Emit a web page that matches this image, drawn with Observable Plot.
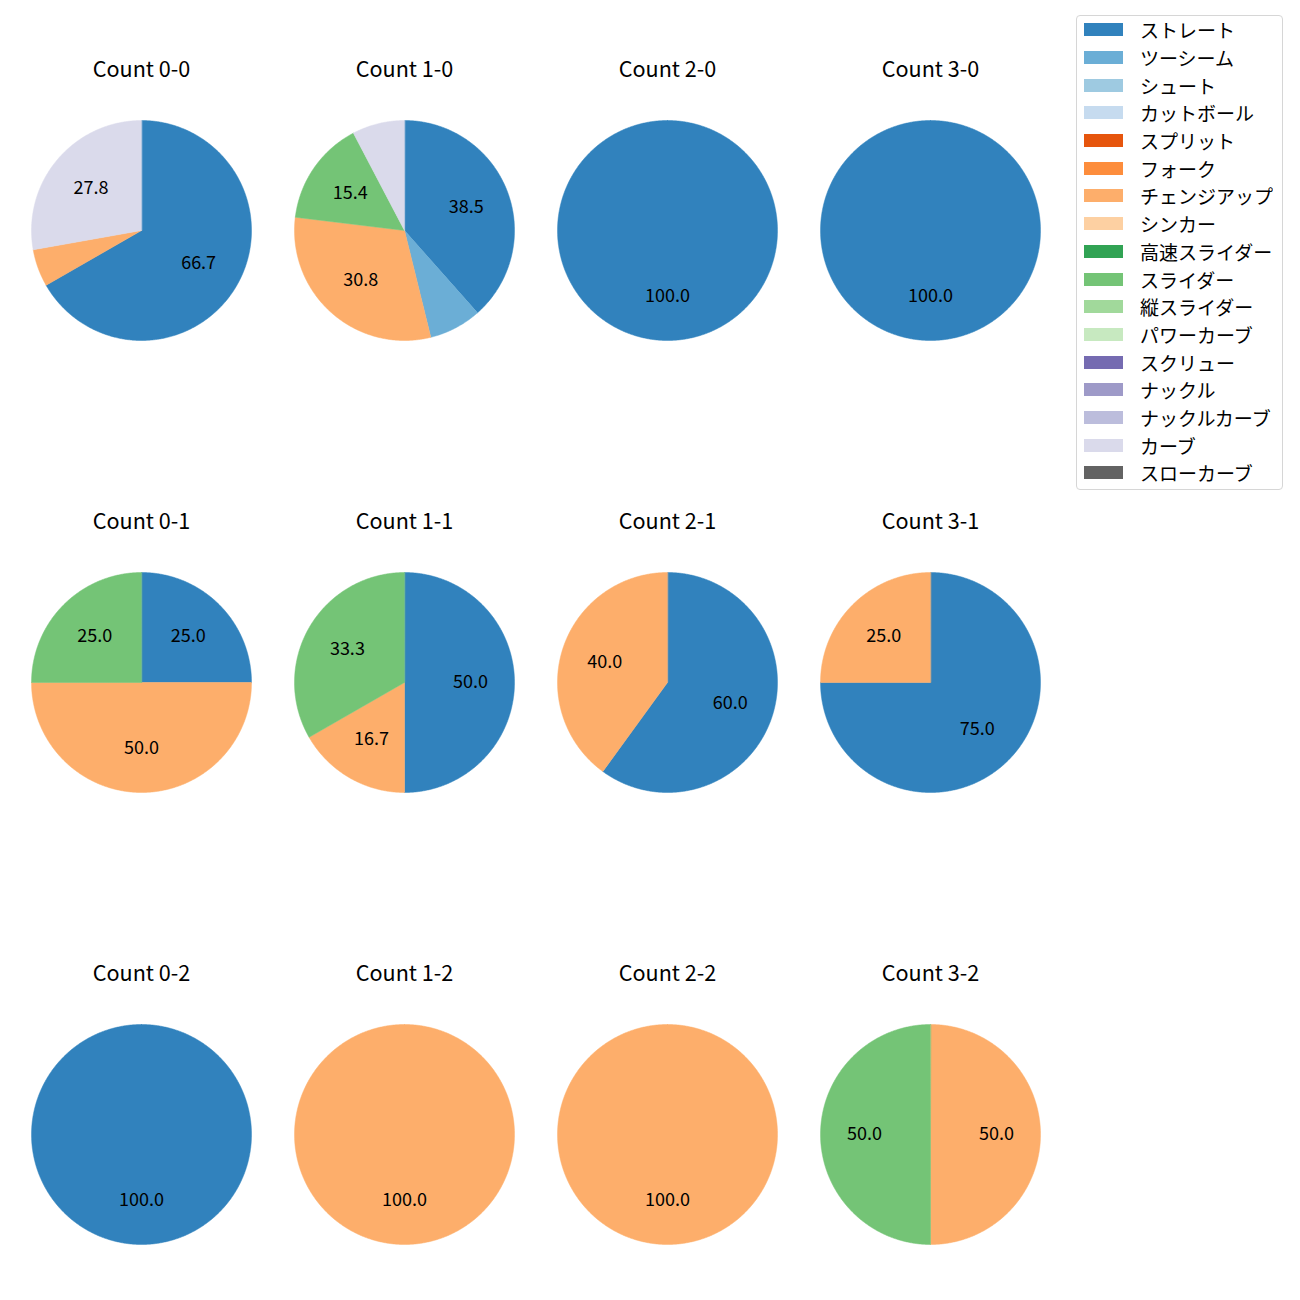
<!DOCTYPE html>
<html>
<head>
<meta charset="utf-8">
<script src="https://cdn.jsdelivr.net/npm/d3@7"></script>
<script src="https://cdn.jsdelivr.net/npm/@observablehq/plot@0.6"></script>
<style>
  body { margin: 0; background: #fff; }
  #wrap { position: relative; width: 1300px; height: 1300px; background: #fff; }
  #wrap > svg { position: absolute; left: 0; top: 0; }
  .lg-swatches.lg-swatches {
    position: absolute; left: 1076px; top: 15px; width: 207px; box-sizing: border-box;
    border: 1px solid #d6d6d6; border-radius: 4px; padding: 0 0 2px 7px; margin: 0;
    background: #fff; font-family: "Noto Sans CJK JP", sans-serif; font-size: 19px; color: #000;
  }
  .lg-swatches .lg-swatch { height: 27.7px; padding: 0; }
  .lg-swatches .lg-swatch > svg { margin-right: 17px; }
</style>
</head>
<body>
<div id="wrap"></div>
<script>
// Pitch types (legend order) and their colours
const pitchTypes = ["ストレート","ツーシーム","シュート","カットボール","スプリット","フォーク","チェンジアップ","シンカー","高速スライダー","スライダー","縦スライダー","パワーカーブ","スクリュー","ナックル","ナックルカーブ","カーブ","スローカーブ"];
const pitchColors = ["#3182bd","#6baed6","#9ecae1","#c6dbef","#e6550d","#fd8d3c","#fdae6b","#fdd0a2","#31a354","#74c476","#a1d99b","#c7e9c0","#756bb1","#9e9ac8","#bcbddc","#dadaeb","#636363"];

// Counts (balls-strikes)
const countLabels = ["0-0","1-0","2-0","3-0","0-1","1-1","2-1","3-1","0-2","1-2","2-2","3-2"];
const countBalls   = [0,1,2,3,0,1,2,3,0,1,2,3];
const countStrikes = [0,0,0,0,1,1,1,1,2,2,2,2];

// Share (%) of each pitch type per count, in pitchTypes order
const share00 = [66.7,0,0,0,0,0,5.5,0,0,0,0,0,0,0,0,27.8,0];
const share10 = [38.5,7.7,0,0,0,0,30.8,0,0,15.4,0,0,0,0,0,7.7,0];
const share20 = [100,0,0,0,0,0,0,0,0,0,0,0,0,0,0,0,0];
const share30 = [100,0,0,0,0,0,0,0,0,0,0,0,0,0,0,0,0];
const share01 = [25,0,0,0,0,0,50,0,0,25,0,0,0,0,0,0,0];
const share11 = [50,0,0,0,0,0,16.7,0,0,33.3,0,0,0,0,0,0,0];
const share21 = [60,0,0,0,0,0,40,0,0,0,0,0,0,0,0,0,0];
const share31 = [75,0,0,0,0,0,25,0,0,0,0,0,0,0,0,0,0];
const share02 = [100,0,0,0,0,0,0,0,0,0,0,0,0,0,0,0,0];
const share12 = [0,0,0,0,0,0,100,0,0,0,0,0,0,0,0,0,0];
const share22 = [0,0,0,0,0,0,100,0,0,0,0,0,0,0,0,0,0];
const share32 = [0,0,0,0,0,0,50,0,0,50,0,0,0,0,0,0,0];
const shares = [share00,share10,share20,share30,share01,share11,share21,share31,share02,share12,share22,share32];

const minLabel = 10; // smaller slices carry no label

// Build wedge outlines (unit circle, start at 12 o'clock, clockwise)
const wedgePts = [], labels = [], titles = [];
countLabels.forEach((c, k) => {
  const col = countBalls[k], row = countStrikes[k];
  const vals = shares[k];
  const total = d3.sum(vals);
  titles.push({col, row, text: "Count " + c});
  let acc = 0;
  vals.forEach((v, j) => {
    if (!(v > 0)) return;
    const t0 = acc / total, t1 = (acc + v) / total;
    acc += v;
    const key = c + "|" + j, type = pitchTypes[j];
    const n = Math.max(2, Math.ceil((t1 - t0) * 720));
    if (t1 - t0 < 0.9999) wedgePts.push({key, type, col, row, x: 0, y: 0});
    for (let i = 0; i <= n; i++) {
      const a = Math.PI / 2 - 2 * Math.PI * (t0 + (t1 - t0) * i / n);
      wedgePts.push({key, type, col, row, x: Math.cos(a), y: Math.sin(a)});
    }
    if (v >= minLabel) {
      const am = Math.PI / 2 - 2 * Math.PI * (t0 + t1) / 2;
      labels.push({col, row, x: 0.6 * Math.cos(am), y: 0.6 * Math.sin(am), text: d3.format(".1f")(v)});
    }
  });
});

const chart = Plot.plot({
  width: 1300, height: 1300,
  marginTop: 0, marginRight: 0, marginBottom: 0, marginLeft: 0,
  style: {fontFamily: '"Noto Sans CJK JP", sans-serif', background: "#fff", color: "#000"},
  x: {domain: [-1, 1], axis: null},
  y: {domain: [-1, 1], axis: null},
  fx: {domain: [0, 1, 2, 3], range: [31, 1040], paddingInner: 43 / 263, paddingOuter: 0, axis: null},
  fy: {domain: [0, 1, 2], range: [119, 1244], paddingInner: 232.5 / 452.5, paddingOuter: 0, axis: null},
  color: {type: "ordinal", domain: pitchTypes, range: pitchColors},
  marks: [
    Plot.line(wedgePts, {x: "x", y: "y", z: "key", fill: "type", stroke: "type", strokeWidth: 0.5, fx: "col", fy: "row", curve: "linear-closed"}),
    Plot.text(labels, {x: "x", y: "y", text: "text", fx: "col", fy: "row", fontSize: 18, fill: "#000"}),
    Plot.text(titles, {frameAnchor: "top", dy: -44, lineAnchor: "bottom", text: "text", fx: "col", fy: "row", fontSize: 21.6, fill: "#000"})
  ]
});

const legend = Plot.legend({
  color: {type: "ordinal", domain: pitchTypes, range: pitchColors},
  legend: "swatches", columns: 1, swatchWidth: 39, swatchHeight: 13, className: "lg"
});

const wrap = document.getElementById("wrap");
wrap.appendChild(chart);
wrap.appendChild(legend);
</script>
</body>
</html>
